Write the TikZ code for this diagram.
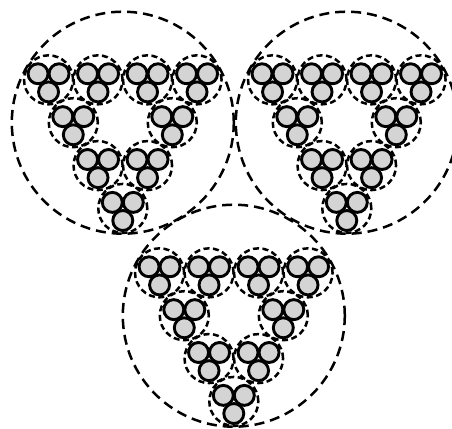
\documentclass[tikz,border=0pt]{standalone}
\usepackage{tikz}
\usepackage{xcolor}

\definecolor{cablegray}{gray}{0.83}

\tikzset{
  cable/.style={fill=cablegray, draw=black, line width=2.9pt},
  sheath/.style={draw=black, line width=2.5pt, dash pattern=on 6pt off 3.5pt},
  jacket/.style={draw=black, line width=2.5pt, dash pattern=on 10pt off 6pt}
}

% one sheath holding three cables, centred at a named coordinate
\newcommand{\trio}[1]{%
  \begin{scope}[shift={(#1)}]
    \draw[sheath] (0,0) circle (24.5pt);
    \draw[cable] (-10.5, 6.06) circle (10pt);
    \draw[cable] (10.5, 6.06) circle (10pt);
    \draw[cable] (0, -12.1) circle (10pt);
  \end{scope}}

% nine sheaths on a triangle inside one jacket
\newcommand{\bundle}{%
        % Define centres of the sheaths
        \coordinate (S1) at (-74.25, 42.87);   % top row, far left
        \coordinate (S2) at (-24.75, 42.87);   % top row, left
        \coordinate (S3) at (24.75, 42.87);    % top row, right
        \coordinate (S4) at (74.25, 42.87);    % top row, far right
        \coordinate (S5) at (-49.5, 0);        % second row, left
        \coordinate (S6) at (49.5, 0);         % second row, right
        \coordinate (S7) at (-24.75, -42.87);  % third row, left
        \coordinate (S8) at (24.75, -42.87);   % third row, right
        \coordinate (S9) at (0, -85.74);       % bottom tip

        % Draw the outer jacket
        \draw[jacket] (0,0) circle (111pt);

        % Draw the sheaths with their cables
        \trio{S1} \trio{S2} \trio{S3} \trio{S4}
        \trio{S5} \trio{S6}
        \trio{S7} \trio{S8}
        \trio{S9}}

\begin{document}
\begin{tikzpicture}[x=1pt, y=1pt]
\useasboundingbox (0,0) rectangle (452,428);
\clip (0,0) rectangle (452,428);

        \begin{scope}[shift={(122.8, 305.3)}]
        \bundle
        \end{scope}

        \begin{scope}[shift={(346.8, 305.3)}]
        \bundle
        \end{scope}

        \begin{scope}[shift={(233.8, 112.3)}]
        \bundle
        \end{scope}
\end{tikzpicture}
\end{document}
